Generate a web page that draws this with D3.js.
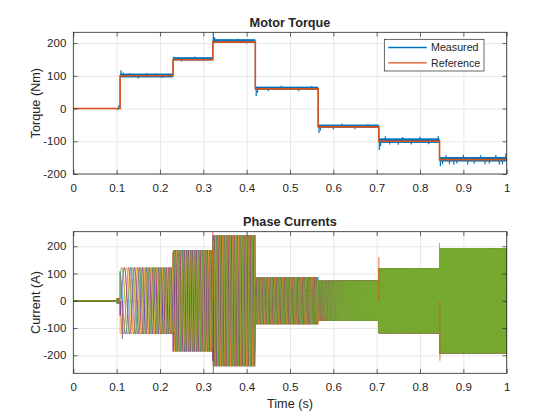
<!DOCTYPE html>
<html>
<head>
<meta charset="utf-8">
<script src="https://cdn.jsdelivr.net/npm/d3@7"></script>
<style>
  body { margin: 0; background: #fff; }
  text { font-family: "Liberation Sans", Arial, Helvetica, sans-serif; fill: #262626; }
  .tick text { font-size: 11.5px; }
  .grid line { stroke: #dedede; stroke-width: 0.7; }
  .grid path { display: none; }
</style>
</head>
<body>
<svg id="chart" width="560" height="420"></svg>
<script>

// ---- data ----
const timeTicks = [0, 0.1, 0.2, 0.3, 0.4, 0.5, 0.6, 0.7, 0.8, 0.9, 1];
const torqueTicks = [-200, -100, 0, 100, 200];
const currentTicks = [-200, -100, 0, 100, 200];

// torque steps (segment start times, last entry = end)
const stepTimes = [0, 0.108, 0.23, 0.322, 0.42, 0.565, 0.705, 0.845, 1];
const refTorque = [0, 100, 149, 203, 60, -56, -100, -156];
const measTorque = [0, 101, 152, 207, 62, -54, -98, -155];
const measRipple = [0, 6, 5, 5, 5, 5, 7, 7];
// transients and noise spikes on the measured torque [time, value]
const measSpikes = [
  [0.103, -5], [0.105, 10], [0.110, 117], [0.115, 110], [0.13, 109], [0.15, 92], [0.17, 109], [0.19, 108], [0.205, 93],
  [0.233, 158], [0.25, 144], [0.28, 159], [0.30, 145],
  [0.323, 234], [0.326, 218], [0.35, 200], [0.38, 213], [0.40, 199],
  [0.422, 38], [0.425, 48], [0.45, 53], [0.48, 70], [0.52, 53], [0.55, 69],
  [0.567, -75], [0.570, -68], [0.60, -64], [0.62, -46], [0.65, -63], [0.68, -47],
  [0.706, -127], [0.709, -115], [0.72, -85], [0.73, -110], [0.75, -111], [0.76, -87], [0.78, -110],
  [0.80, -86], [0.82, -109], [0.842, -84],
  [0.847, -176], [0.852, -170], [0.86, -143], [0.868, -170], [0.878, -172], [0.885, -168], [0.90, -141],
  [0.91, -171], [0.925, -169], [0.94, -143], [0.95, -170], [0.96, -168], [0.975, -142], [0.983, -171],
  [0.99, -170], [0.998, -137]
];

// phase current envelope (segment start times, last entry = end)
const ampTimes = [0, 0.1, 0.108, 0.23, 0.322, 0.42, 0.565, 0.705, 0.845, 1];
const currentAmp = [0, 9, 122, 186, 240, 86, 74, 119, 193];
// electrical frequency breakpoints (Hz)
const freqTimes = [0.1, 0.108, 0.16, 0.23, 0.322, 0.42, 0.565, 0.64, 0.705, 0.845, 1];
const freqHz = [300, 30, 60, 95, 125, 145, 185, 520, 650, 720, 780];
// current spikes [time, value, phase]
const currentSpikes = [[0.322, 253, 1], [0.323, -265, 3], [0.705, 160, 1], [0.845, 212, 4], [0.846, -220, 1], [0.113, -140, 3]];
const phaseColors = ['#0072BD', '#D95319', '#EDB120', '#7E2F8E', '#77AC30'];

// ---- layout ----
const svg = d3.select('#chart');
const left = 73.3, right = 506.7;
const topPanel = { top: 32.3, bottom: 174 };
const botPanel = { top: 231.7, bottom: 373.3 };

const x = d3.scaleLinear().domain([0, 1]).range([left, right]);
const yT = d3.scaleLinear().domain([-200, 233]).range([topPanel.bottom, topPanel.top]);
const yC = d3.scaleLinear().domain([-266, 253.5]).range([botPanel.bottom, botPanel.top]);

const drawFrame = (g, y, yTicks, p, clipId) => {
  const h = p.bottom - p.top, w = right - left;

  g.append('g').attr('class', 'grid').attr('transform', `translate(0,${p.bottom})`)
    .call(d3.axisBottom(x).tickValues(timeTicks).tickSize(-h).tickFormat(''));
  g.append('g').attr('class', 'grid').attr('transform', `translate(${left},0)`)
    .call(d3.axisLeft(y).tickValues(yTicks).tickSize(-w).tickFormat(''));

  g.append('clipPath').attr('id', clipId)
    .append('rect').attr('x', left).attr('y', p.top).attr('width', w).attr('height', h);
};

const drawAxes = (g, y, yTicks, p) => {
  const h = p.bottom - p.top, w = right - left;
  const fmt = d => d3.format('~g')(d).replace('−', '-');

  const styleAxis = a => {
    a.select('.domain').remove();
    a.selectAll('.tick line').attr('stroke', '#262626').attr('stroke-width', 0.7);
  };

  g.append('g').attr('transform', `translate(0,${p.bottom})`)
    .call(d3.axisBottom(x).tickValues(timeTicks).tickSize(-4.3).tickPadding(10).tickFormat(fmt))
    .call(styleAxis);
  g.append('g').attr('transform', `translate(0,${p.top})`)
    .call(d3.axisTop(x).tickValues(timeTicks).tickSize(-4.3).tickFormat(''))
    .call(styleAxis);
  g.append('g').attr('transform', `translate(${left},0)`)
    .call(d3.axisLeft(y).tickValues(yTicks).tickSize(-4.3).tickPadding(7).tickFormat(fmt))
    .call(styleAxis);
  g.append('g').attr('transform', `translate(${right},0)`)
    .call(d3.axisRight(y).tickValues(yTicks).tickSize(-4.3).tickFormat(''))
    .call(styleAxis);

  g.selectAll('.tick text').attr('fill', '#262626').style('font-family', '"Liberation Sans", Arial, sans-serif');

  g.append('rect').attr('x', left).attr('y', p.top).attr('width', w).attr('height', h)
    .attr('fill', 'none').attr('stroke', '#262626').attr('stroke-width', 0.8);
};

// ---- torque panel ----
const gT = svg.append('g');
drawFrame(gT, yT, torqueTicks, topPanel, 'clipT');

const segs = refTorque.map((v, i) => ({ t0: stepTimes[i], t1: stepTimes[i + 1], ref: v, meas: measTorque[i], r: measRipple[i] }));
const dataT = gT.append('g').attr('clip-path', 'url(#clipT)');

// measured ripple band
dataT.selectAll('rect.band').data(segs.filter(s => s.r > 0)).join('rect')
  .attr('class', 'band')
  .attr('x', s => x(s.t0))
  .attr('width', s => x(s.t1) - x(s.t0))
  .attr('y', s => yT(s.meas + s.r))
  .attr('height', s => yT(s.meas - s.r) - yT(s.meas + s.r))
  .attr('fill', '#0072BD');

const stepPts = src => {
  const pts = [];
  segs.forEach(s => { pts.push([s.t0, s[src]]); pts.push([s.t1, s[src]]); });
  return pts;
};
const stepLine = d3.line().x(d => x(d[0])).y(d => yT(d[1]));

dataT.append('path').attr('d', stepLine(stepPts('meas')))
  .attr('fill', 'none').attr('stroke', '#0072BD').attr('stroke-width', 1);

const levelAt = t => measTorque[Math.max(0, d3.bisectRight(stepTimes, t) - 1)];
dataT.selectAll('line.spike').data(measSpikes).join('line')
  .attr('class', 'spike')
  .attr('x1', d => x(d[0])).attr('x2', d => x(d[0]))
  .attr('y1', d => yT(levelAt(d[0]))).attr('y2', d => yT(d[1]))
  .attr('stroke', '#0072BD').attr('stroke-width', 1.2);

dataT.append('path').attr('d', stepLine(stepPts('ref')))
  .attr('fill', 'none').attr('stroke', '#D95319').attr('stroke-width', 1.6);

drawAxes(gT, yT, torqueTicks, topPanel);

svg.append('text').attr('x', (left + right) / 2).attr('y', 26.5)
  .attr('text-anchor', 'middle').style('font-size', '12.7px').style('font-weight', 'bold')
  .text('Motor Torque');
svg.append('text').attr('transform', `translate(40,${(topPanel.top + topPanel.bottom) / 2}) rotate(-90)`)
  .attr('text-anchor', 'middle').style('font-size', '12.7px').text('Torque (Nm)');

// legend
const leg = svg.append('g');
leg.append('rect').attr('x', 384.3).attr('y', 39.3).attr('width', 99.7).attr('height', 31.7)
  .attr('fill', '#fff').attr('stroke', '#262626').attr('stroke-width', 0.7);
[['Measured', '#0072BD', 47.5], ['Reference', '#D95319', 62.8]].forEach(([label, col, yy]) => {
  leg.append('line').attr('x1', 388.3).attr('x2', 426.7).attr('y1', yy).attr('y2', yy)
    .attr('stroke', col).attr('stroke-width', 1.3);
  leg.append('text').attr('x', 431).attr('y', yy + 3.8).style('font-size', '10.7px').text(label);
});

// ---- phase current panel ----
const gC = svg.append('g');
drawFrame(gC, yC, currentTicks, botPanel, 'clipC');
const dataC = gC.append('g').attr('clip-path', 'url(#clipC)');

const freqAt = d3.scaleLinear().domain(freqTimes).range(freqHz).clamp(true);
const ampAt = t => currentAmp[Math.min(currentAmp.length - 1, Math.max(0, d3.bisectRight(ampTimes, t) - 1))];
const dt = 0.00005;
const times = d3.range(0, 1 + dt / 2, dt);
let theta = 0;
const thetas = times.map(t => { if (t >= 0.1) theta += 2 * Math.PI * freqAt(t) * dt; return theta; });

const currentLine = d3.line().x(d => x(d[0])).y(d => yC(d[1]));
phaseColors.forEach((col, k) => {
  const pts = times.map((t, i) => [t, ampAt(t) * Math.sin(thetas[i] + 2 * Math.PI * k / phaseColors.length)]);
  dataC.append('path').attr('d', currentLine(pts))
    .attr('fill', 'none').attr('stroke', col).attr('stroke-width', 0.9);
});

dataC.selectAll('line.cspike').data(currentSpikes).join('line')
  .attr('class', 'cspike')
  .attr('x1', d => x(d[0])).attr('x2', d => x(d[0]))
  .attr('y1', yC(0)).attr('y2', d => yC(d[1]))
  .attr('stroke', d => phaseColors[d[2]]).attr('stroke-width', 0.8);

// green trace at rest before the steps start
dataC.append('line')
  .attr('x1', x(0)).attr('x2', x(0.1)).attr('y1', yC(0)).attr('y2', yC(0))
  .attr('stroke', phaseColors[4]).attr('stroke-width', 1.3);

drawAxes(gC, yC, currentTicks, botPanel);

svg.append('text').attr('x', (left + right) / 2).attr('y', 225.5)
  .attr('text-anchor', 'middle').style('font-size', '12.7px').style('font-weight', 'bold')
  .text('Phase Currents');
svg.append('text').attr('transform', `translate(40,${(botPanel.top + botPanel.bottom) / 2}) rotate(-90)`)
  .attr('text-anchor', 'middle').style('font-size', '12.7px').text('Current (A)');
svg.append('text').attr('x', (left + right) / 2).attr('y', 408)
  .attr('text-anchor', 'middle').style('font-size', '12.7px').text('Time (s)');

</script>
</body>
</html>
